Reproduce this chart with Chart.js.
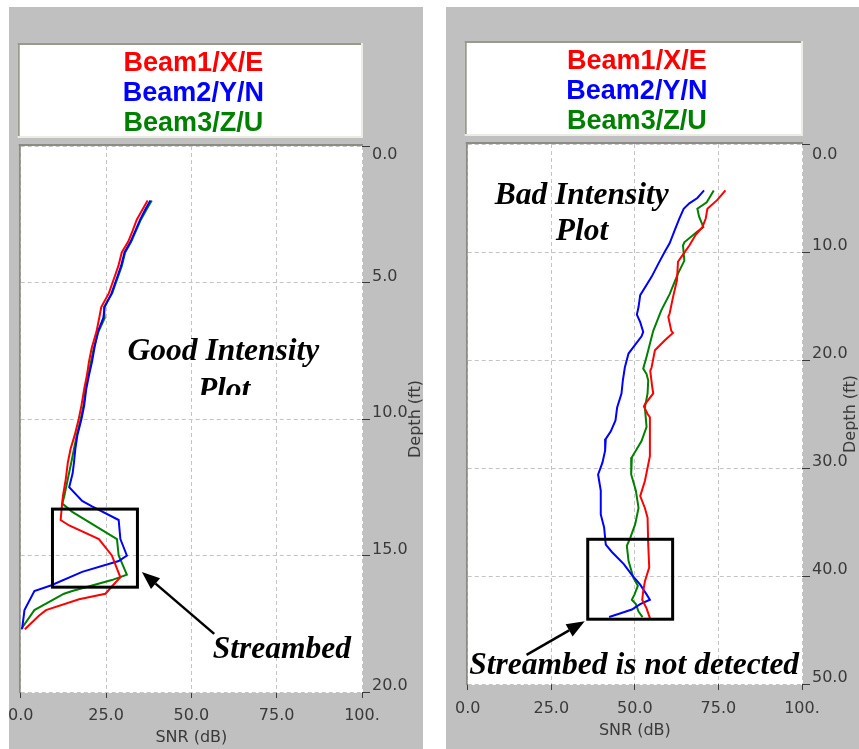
<!DOCTYPE html>
<html>
<head>
<meta charset="utf-8">
<script src="https://cdn.jsdelivr.net/npm/chart.js@4/dist/chart.umd.min.js"></script>
<style>
  html, body { margin: 0; padding: 0; background: #fff; }
  body { width: 859px; height: 749px; position: relative; overflow: hidden; }
  .panel { position: absolute; top: 7px; height: 742px; background: #c0c0c0; overflow: hidden; }
  #goodPanel { left: 9px; width: 414px; }
  #badPanel { left: 446px; width: 413px; }
  canvas { position: absolute; top: 0; }
  #goodChart { left: -9px; }
  #badChart { left: 0; }
</style>
</head>
<body>
<div class="panel" id="goodPanel"><canvas id="goodChart" width="423" height="742"></canvas></div>
<div class="panel" id="badPanel"><canvas id="badChart" width="413" height="742"></canvas></div>
<script>
const beamLabels = ["Beam1/X/E", "Beam2/Y/N", "Beam3/Z/U"];
const snrTicks = [0, 25, 50, 75, 100];
const goodDepthTicks = [0, 5, 10, 15, 20];
const badDepthTicks = [0, 10, 20, 30, 40, 50];

// good profile: depth (ft) and SNR (dB) per beam
const goodDepth1 = [2.0, 2.3, 2.7, 3.1, 3.5, 3.9, 4.4, 4.9, 5.4, 5.9, 6.3, 6.8, 7.4, 7.9, 8.4, 8.9, 9.5, 10.0, 10.6, 11.1, 11.6, 12.2, 12.8, 13.0, 13.7, 13.9, 14.4, 15.0, 15.8, 16.0, 16.4, 16.6, 17.0, 17.2, 17.7];
const goodSnr1 = [37.2, 35.8, 34.0, 32.8, 31.5, 29.6, 28.6, 27.2, 25.8, 23.6, 23.0, 22.2, 20.8, 20.0, 19.4, 18.6, 17.8, 17.0, 15.8, 14.6, 13.8, 13.2, 12.4, 12.2, 11.7, 14.2, 22.9, 26.7, 29.2, 27.7, 24.8, 17.1, 7.4, 5.4, 1.2];
const goodDepth2 = [2.0, 2.3, 2.7, 3.1, 3.5, 3.9, 4.4, 4.9, 5.4, 5.9, 6.3, 6.8, 7.4, 7.9, 8.4, 8.9, 9.5, 10.0, 10.6, 11.1, 11.6, 12.0, 12.5, 13.0, 13.2, 13.7, 14.4, 15.0, 15.2, 15.6, 16.1, 16.3, 17.0, 17.7];
const goodSnr2 = [38.0, 36.6, 35.0, 33.6, 32.2, 30.4, 29.4, 28.0, 26.6, 24.6, 24.2, 22.6, 21.6, 20.9, 20.0, 19.2, 18.6, 17.8, 16.6, 16.0, 15.6, 15.2, 14.2, 18.0, 20.9, 28.7, 29.2, 31.1, 28.7, 18.0, 8.8, 4.0, 1.1, 0.4];
const goodDepth3 = [2.0, 2.3, 2.7, 3.1, 3.5, 3.9, 4.4, 4.9, 5.4, 5.9, 6.3, 6.8, 7.4, 7.9, 8.4, 8.9, 9.5, 10.0, 10.6, 11.1, 11.6, 12.2, 12.8, 13.1, 13.4, 14.4, 15.0, 15.7, 15.9, 16.3, 16.4, 17.0, 17.7];
const goodSnr3 = [38.4, 37.0, 35.2, 33.8, 32.4, 30.6, 29.6, 28.2, 26.8, 24.4, 24.6, 22.8, 21.4, 20.6, 19.8, 19.0, 18.4, 17.6, 16.4, 15.6, 14.8, 13.8, 12.8, 12.2, 15.1, 28.2, 28.7, 31.1, 26.7, 15.1, 12.7, 4.0, 0.1];

// bad profile
const badDepth1 = [4.3, 5.2, 6.0, 6.9, 7.7, 8.4, 9.4, 10.5, 10.9, 12.6, 14.2, 15.7, 16.0, 17.3, 17.5, 18.2, 19.1, 20.7, 21.0, 22.5, 23.1, 24.1, 24.3, 25.0, 25.3, 26.6, 28.9, 31.2, 32.6, 33.7, 34.6, 37.1, 39.2, 40.5, 41.4, 42.2, 43.0, 43.9];
const badSnr1 = [77.1, 74.6, 71.7, 71.2, 70.2, 68.2, 66.3, 63.8, 62.9, 62.6, 61.4, 60.4, 60.0, 60.9, 61.4, 58.9, 56.0, 55.0, 54.6, 55.2, 55.5, 53.0, 52.7, 53.8, 54.5, 54.5, 54.5, 53.0, 51.6, 53.0, 53.8, 54.0, 54.3, 53.0, 52.5, 52.2, 53.5, 54.5];
const badDepth2 = [4.3, 5.0, 5.5, 6.0, 6.9, 8.0, 9.2, 10.0, 11.1, 12.3, 14.0, 15.1, 15.8, 16.5, 17.4, 17.8, 19.0, 19.4, 20.7, 21.9, 23.1, 24.4, 25.6, 26.6, 27.3, 28.4, 29.5, 30.6, 32.1, 34.3, 35.5, 37.1, 37.8, 38.9, 39.9, 40.8, 41.7, 42.2, 42.6, 43.1, 43.4, 43.8];
const badSnr2 = [70.7, 68.7, 66.3, 64.6, 63.3, 61.9, 60.4, 58.9, 57.0, 55.0, 51.6, 51.1, 50.6, 51.6, 52.5, 52.0, 49.1, 48.1, 47.0, 46.4, 46.0, 44.7, 44.2, 42.8, 41.3, 41.1, 40.3, 39.0, 39.8, 39.8, 40.8, 41.3, 43.2, 46.7, 49.1, 51.6, 53.5, 54.5, 51.6, 49.1, 46.2, 42.3];
const badDepth3 = [4.3, 5.4, 6.0, 6.7, 7.7, 8.1, 9.1, 9.4, 10.8, 12.0, 13.9, 15.4, 17.3, 18.5, 19.7, 20.8, 21.3, 21.9, 23.1, 24.4, 26.2, 27.5, 29.0, 30.6, 32.1, 33.7, 35.2, 36.5, 37.2, 38.6, 40.2, 40.9, 41.7, 42.2, 42.6, 43.3, 43.8];
const badSnr3 = [73.6, 71.5, 68.7, 69.2, 70.5, 68.7, 64.8, 64.4, 64.8, 62.9, 60.4, 57.9, 55.5, 54.5, 53.5, 52.5, 53.5, 54.0, 53.8, 53.0, 53.5, 52.0, 49.1, 48.9, 50.3, 51.1, 50.1, 48.6, 47.6, 48.1, 49.6, 50.9, 49.9, 49.1, 50.3, 51.1, 52.3];

const beamColors = ["#ff0000", "#0000ff", "#008000"];
const axisInk = "#3a3a3a";
const noteFont = 'italic bold 31.5px "Liberation Serif", "Times New Roman", serif';

function beamSets(depths, snrs) {
  return depths.map((d, i) => ({
    label: beamLabels[i],
    data: d.map((dep, k) => ({ x: snrs[i][k], y: dep })),
    borderColor: beamColors[i],
    backgroundColor: beamColors[i],
    borderWidth: 2,
    pointRadius: 0,
    showLine: true,
    fill: false
  }));
}

function gridOpts(tickLength) {
  return {
    color: "#c4c4c4",
    lineWidth: 1,
    drawTicks: true,
    tickLength,
    tickColor: axisInk,
    tickBorderDash: [],
    tickWidth: 1
  };
}

// legend box, depth title, notes, box and arrow drawn on top of the plot
function makeDecor(cfg) {
  return {
    id: "decor",
    beforeDraw(chart) {
      const { ctx, chartArea: a } = chart;
      ctx.save();
      ctx.fillStyle = "#ffffff";
      ctx.fillRect(a.left - 2, a.top - 2, a.width + 3, a.height + 3);
      ctx.restore();
    },
    beforeDatasetsDraw(chart) {
      const { ctx, chartArea: a } = chart;
      ctx.save();
      ctx.fillStyle = "#8c8c84";
      ctx.fillRect(a.left - 2, a.top - 2, a.width + 3, 2);
      ctx.fillRect(a.left - 2, a.top - 2, 2, a.height + 3);
      ctx.restore();
    },
    afterDraw(chart) {
      const { ctx, chartArea: a, scales: { x, y } } = chart;
      ctx.save();

      // legend
      const lx = a.left - 3, ly = a.top - 103, lw = a.width + 4, lh = 95;
      ctx.fillStyle = "#ffffff";
      ctx.fillRect(lx, ly, lw, lh);
      ctx.fillStyle = "#9a9a8c";
      ctx.fillRect(lx, ly, lw, 2);
      ctx.fillRect(lx, ly, 2, lh);
      ctx.fillStyle = "#ecebe4";
      ctx.fillRect(lx, ly + lh - 2, lw, 2);
      ctx.fillRect(lx + lw - 2, ly, 2, lh);
      ctx.font = 'bold 27px "Liberation Sans", Arial, sans-serif';
      ctx.textAlign = "center";
      ctx.textBaseline = "alphabetic";
      chart.data.datasets.forEach((ds, i) => {
        ctx.fillStyle = ds.borderColor;
        ctx.fillText(ds.label, lx + lw / 2 + 3, ly + 27.5 + i * 30);
      });

      // depth title, reading upwards
      ctx.save();
      ctx.translate(a.right + cfg.titleOffset, (a.top + a.bottom) / 2);
      ctx.rotate(-Math.PI / 2);
      ctx.fillStyle = axisInk;
      ctx.font = '16px "DejaVu Sans", sans-serif';
      ctx.textAlign = "center";
      ctx.textBaseline = "alphabetic";
      ctx.fillText("Depth (ft)", 0, 0);
      ctx.restore();

      // notes
      ctx.font = noteFont;
      ctx.fillStyle = "#000";
      ctx.textAlign = "center";
      cfg.notes.forEach(n => {
        ctx.save();
        if (n.clip !== undefined) {
          ctx.beginPath();
          ctx.rect(0, 0, chart.width, y.getPixelForValue(n.clip));
          ctx.clip();
        }
        ctx.fillText(n.text, x.getPixelForValue(n.snr), y.getPixelForValue(n.depth));
        ctx.restore();
      });

      // box round the streambed zone
      const b = cfg.box;
      const bx0 = x.getPixelForValue(b[0]), by0 = y.getPixelForValue(b[1]);
      const bx1 = x.getPixelForValue(b[2]), by1 = y.getPixelForValue(b[3]);
      ctx.strokeStyle = "#000";
      ctx.lineWidth = 3;
      ctx.strokeRect(bx0, by0, bx1 - bx0, by1 - by0);

      // arrow
      const fx = x.getPixelForValue(cfg.arrow[0]), fy = y.getPixelForValue(cfg.arrow[1]);
      const tx = x.getPixelForValue(cfg.arrow[2]), ty = y.getPixelForValue(cfg.arrow[3]);
      const ang = Math.atan2(ty - fy, tx - fx);
      const head = 18, half = 7;
      const hx = tx - head * Math.cos(ang), hy = ty - head * Math.sin(ang);
      ctx.lineWidth = 2.5;
      ctx.beginPath();
      ctx.moveTo(fx, fy);
      ctx.lineTo(hx, hy);
      ctx.stroke();
      ctx.beginPath();
      ctx.moveTo(tx, ty);
      ctx.lineTo(hx + half * Math.sin(ang), hy - half * Math.cos(ang));
      ctx.lineTo(hx - half * Math.sin(ang), hy + half * Math.cos(ang));
      ctx.closePath();
      ctx.fillStyle = "#000";
      ctx.fill();

      ctx.restore();
    }
  };
}

function makeChart(el, sets, depthTicks, cfg) {
  return new Chart(document.getElementById(el), {
    type: "scatter",
    data: { datasets: sets },
    options: {
      responsive: false,
      animation: false,
      events: [],
      layout: { padding: { left: cfg.padLeft, top: cfg.padTop, right: 0, bottom: 0 } },
      plugins: { legend: { display: false }, tooltip: { enabled: false } },
      scales: {
        x: {
          type: "linear",
          position: "bottom",
          min: snrTicks[0],
          max: snrTicks[snrTicks.length - 1],
          afterBuildTicks: s => { s.ticks = snrTicks.map(v => ({ value: v })); },
          afterFit: s => { s.height = cfg.xHeight; },
          grid: gridOpts(6),
          border: { display: false, dash: [4, 3] },
          ticks: {
            autoSkip: false,
            maxRotation: 0,
            padding: cfg.xTickPad,
            color: axisInk,
            font: { family: "DejaVu Sans", size: 16 },
            callback: v => (v === 100 ? "100." : v.toFixed(1))
          },
          title: {
            display: true,
            text: "SNR (dB)",
            color: axisInk,
            font: { family: "DejaVu Sans", size: 16 },
            padding: { top: 0, bottom: cfg.xTitlePad }
          }
        },
        y: {
          type: "linear",
          position: "right",
          reverse: true,
          min: depthTicks[0],
          max: depthTicks[depthTicks.length - 1],
          afterBuildTicks: s => { s.ticks = depthTicks.map(v => ({ value: v })); },
          afterFit: s => { s.width = cfg.yWidth; },
          grid: gridOpts(8),
          border: { display: false, dash: [4, 3] },
          ticks: {
            autoSkip: false,
            padding: 2,
            labelOffset: -6,
            color: axisInk,
            font: c => ({ family: "DejaVu Sans", size: 16, lineHeight: c.index === 0 ? cfg.firstLine + "px" : 1.2 }),
            callback: (v, i) => (i === 0 ? ["", v.toFixed(1)] : v.toFixed(1))
          },
          title: { display: false }
        }
      }
    },
    plugins: [makeDecor(cfg)]
  });
}

makeChart("goodChart",
  beamSets([goodDepth1, goodDepth2, goodDepth3], [goodSnr1, goodSnr2, goodSnr3]),
  goodDepthTicks,
  {
    padLeft: 18, padTop: 139, xHeight: 57, yWidth: 61, xTickPad: 8, xTitlePad: 2,
    firstLine: 30, titleOffset: 57.7,
    notes: [
      { text: "Good Intensity", snr: 59.4, depth: 7.84 },
      { text: "Plot", snr: 59.6, depth: 9.27, clip: 9.12 },
      { text: "Streambed", snr: 76.5, depth: 18.77 }
    ],
    box: [9.3, 13.3, 34.2, 16.16],
    arrow: [56.7, 17.87, 35.5, 15.6]
  });

makeChart("badChart",
  beamSets([badDepth1, badDepth2, badDepth3], [badSnr1, badSnr2, badSnr3]),
  badDepthTicks,
  {
    padLeft: 17, padTop: 137, xHeight: 65, yWidth: 57, xTickPad: 9, xTitlePad: 9,
    firstLine: 34, titleOffset: 52.7,
    notes: [
      { text: "Bad Intensity", snr: 34.1, depth: 5.57 },
      { text: "Plot", snr: 34.2, depth: 8.9 },
      { text: "Streambed is not detected", snr: 49.8, depth: 49.04 }
    ],
    box: [35.9, 36.6, 61.3, 44.0],
    arrow: [17.6, 47.3, 35.0, 44.2]
  });
</script>
</body>
</html>
